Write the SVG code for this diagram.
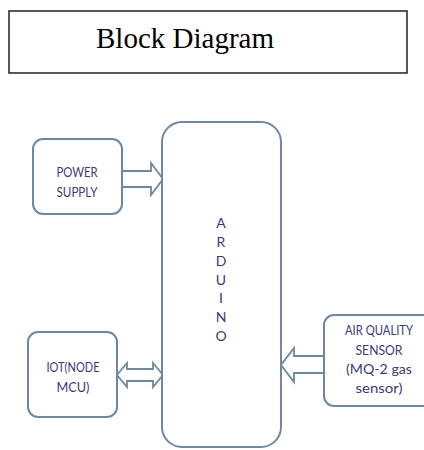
<svg xmlns="http://www.w3.org/2000/svg" width="424" height="450" viewBox="0 0 424 450">
<style>
.box{fill:#fff;stroke:#6f87a3;stroke-width:2}
.arr{fill:#fff;stroke:#6f87a3;stroke-width:1.8;stroke-linejoin:miter}
.lbl{font-family:Lato,"Open Sans","Liberation Sans",sans-serif;font-size:14px;fill:#3a3a78;text-anchor:middle}
.title{font-family:"Liberation Serif","Times New Roman",serif;font-size:29px;fill:#000}
</style>
<rect width="424" height="450" fill="#fff"/>
<g id="title">
<rect x="9" y="11" width="398" height="62" fill="#fff" stroke="#222" stroke-width="1.5"/>
<text class="title" x="96" y="48">Block Diagram</text>
</g>
<g id="connectors">
<path class="arr" d="M122,171 H151 V163 L163,179 L151,195 V187 H122"/>
<path class="arr" d="M117,375 L127,363 V369 H153 V363 L163,375 L153,387 V381 H127 V387 Z"/>
<path class="arr" d="M324,356 H294 V348 L281,365 L294,382 V373 H324"/>
</g>
<g id="arduino">
<rect class="box" x="162" y="122" width="119" height="325" rx="20"/>
<text class="lbl" x="221" y="228">A</text>
<text class="lbl" x="221" y="247">R</text>
<text class="lbl" x="221" y="266">D</text>
<text class="lbl" x="221" y="285">U</text>
<text class="lbl" x="221" y="303">I</text>
<text class="lbl" x="221" y="322">N</text>
<text class="lbl" x="221" y="341">O</text>
</g>
<g id="power">
<rect class="box" x="33" y="139" width="89" height="75" rx="10"/>
<text class="lbl" x="77" y="177" textLength="41" lengthAdjust="spacingAndGlyphs">POWER</text>
<text class="lbl" x="77" y="197" textLength="41" lengthAdjust="spacingAndGlyphs">SUPPLY</text>
</g>
<g id="iot">
<rect class="box" x="28" y="332" width="89" height="85" rx="10"/>
<text class="lbl" x="73" y="372" textLength="53" lengthAdjust="spacingAndGlyphs">IOT(NODE</text>
<text class="lbl" x="73" y="392" textLength="33" lengthAdjust="spacingAndGlyphs">MCU)</text>
</g>
<g id="sensor">
<rect class="box" x="324" y="315" width="110" height="91" rx="10"/>
<text class="lbl" x="379" y="335" textLength="68" lengthAdjust="spacingAndGlyphs">AIR QUALITY</text>
<text class="lbl" x="379" y="355" textLength="47" lengthAdjust="spacingAndGlyphs">SENSOR</text>
<text class="lbl" x="379" y="374" textLength="66" lengthAdjust="spacingAndGlyphs">(MQ-2 gas</text>
<text class="lbl" x="379" y="393" textLength="47" lengthAdjust="spacingAndGlyphs">sensor)</text>
</g>
</svg>
